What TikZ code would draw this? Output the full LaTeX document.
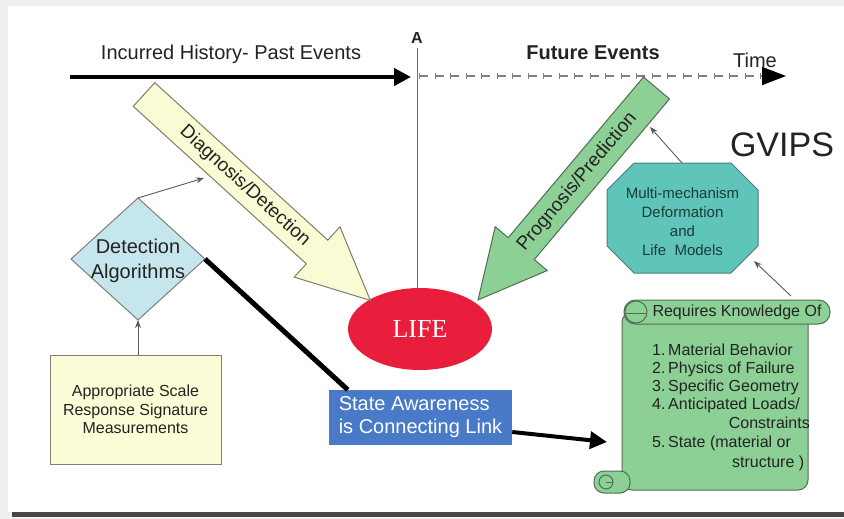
\documentclass[tikz,border=0pt]{standalone}
\usepackage{fontspec}
\setmainfont{Liberation Sans}
\newfontfamily\lifefont{Liberation Serif}
\usetikzlibrary{arrows.meta,calc,shapes.geometric}
\definecolor{bggray}{RGB}{240,239,237}
\definecolor{shadowgray}{RGB}{70,70,70}
\definecolor{yelarrow}{RGB}{250,250,212}
\definecolor{yelline}{RGB}{125,125,105}
\definecolor{grnarrow}{RGB}{140,208,150}
\definecolor{grnline}{RGB}{80,110,85}
\definecolor{lifered}{RGB}{232,30,60}
\definecolor{diablue}{RGB}{198,230,238}
\definecolor{boxyel}{RGB}{252,252,214}
\definecolor{stateblue}{RGB}{72,122,200}
\definecolor{octteal}{RGB}{95,197,187}
\definecolor{octtext}{RGB}{25,60,55}
\definecolor{edgegray}{RGB}{125,125,125}
\definecolor{textdark}{RGB}{35,35,35}
\newcommand\fsz[2]{\fontsize{#1}{#2}\selectfont}
\tikzset{
  thinarrow/.style={draw={rgb,255:red,90;green,90;blue,90}, line width=0.9pt, -{Stealth[length=8pt,width=6pt]}},
  bigarrow/.style={line width=4pt, -{Triangle[length=17pt,width=17pt]}},
  scrollpart/.style={fill=grnarrow, draw=grnline, line width=1pt},
  lbl/.style={text=textdark, inner sep=0pt}
}
\begin{document}
\begin{tikzpicture}[x=1pt,y=-1pt]
\useasboundingbox (0,0) rectangle (844,519);
% background panel
\fill[bggray] (0,0) rectangle (844,519);
\fill[white] (8,6) rectangle (844,512);
\fill[shadowgray] (12,512) rectangle (844,517);

% timeline
\coordinate (h0) at (70,77);
\coordinate (h1) at (411,77);
\draw[bigarrow] (h0) -- (h1);
\coordinate (f0) at (419,76);
\coordinate (f1) at (786,76);
\draw[gray, line width=6pt, dash pattern=on 1.2pt off 14.3pt] (f0) -- ($(f1)+(-24,0)$);
\draw[gray, line width=1.8pt, dash pattern=on 9pt off 6.5pt, -{Triangle[length=24pt,width=18pt,color=black]}] (f0) -- (f1);
\node[lbl, font=\fsz{20}{24}] (hist) at (231,54) {Incurred History- Past Events};
\node[lbl, font=\fsz{20}{24}\bfseries] (fut) at (593,53) {Future Events};
\node[lbl, font=\fsz{20}{24}] (time) at (755,60) {Time};
\node[lbl, font=\fsz{16}{19}\bfseries] (A) at (417,38) {A};

% LIFE
\node[ellipse, fill=lifered, minimum width=144pt, minimum height=82pt, inner sep=0pt,
      text=white, font=\fsz{26}{30}\lifefont] (life) at (420,329) {LIFE};
\coordinate (vtop) at (417,48);
\draw[draw={rgb,255:red,110;green,110;blue,110}, line width=1pt] (vtop) -- (vtop |- life.north);

% Diagnosis / Detection arrow
\begin{scope}[shift={(144,94.5)}, rotate=-42.3]
\filldraw[fill=yelarrow, draw=yelline, line width=1pt] (0,-16) -- (234,-16) -- (234,-34) -- (306,0) -- (234,34) -- (234,16) -- (0,16) -- cycle;
\end{scope}
\node[lbl, rotate=-42.3, font=\fsz{19}{22}] (diag) at (244.8,186.2) {Diagnosis/Detection};

% Prognosis / Prediction arrow
\begin{scope}[shift={(656.5,88)}, rotate=-130.1]
\filldraw[fill=grnarrow, draw=grnline, line width=1pt] (0,-17) -- (210,-17) -- (210,-34) -- (277,0) -- (210,34) -- (210,17) -- (0,17) -- cycle;
\end{scope}
\node[lbl, rotate=49.9, font=\fsz{19}{22}] (prog) at (577.3,182.1) {Prognosis/Prediction};

% Detection Algorithms diamond
\coordinate (dtop) at (138,198);
\coordinate (dright) at (205,259);
\coordinate (dbot) at (138,320);
\coordinate (dleft) at (71,259);
\filldraw[fill=diablue, draw=edgegray, line width=1pt] (dtop) -- (dright) -- (dbot) -- (dleft) -- cycle;
\node[lbl, align=center, font=\fsz{20}{25}] (dia) at (138,261) {Detection\\Algorithms};
\coordinate (dgoal) at (204,178);
\draw[thinarrow] (dtop) -- (dgoal);

% Appropriate scale box
\node[draw=edgegray, fill=boxyel, line width=1pt, minimum width=171pt, minimum height=109pt,
      align=center, text=textdark, font=\fsz{16}{18.5}] (meas) at (135.5,409.5)
      {Appropriate Scale\\Response Signature\\Measurements};
\draw[thinarrow] (dbot |- meas.north) -- (dbot);

% State awareness
\node[fill=stateblue, minimum width=183pt, minimum height=55pt, inner sep=0pt,
      align=left, text=white, font=\fsz{20}{23}] (state) at (420.5,417.5)
      {State Awareness\\is Connecting Link};
\draw[line width=5pt] (dright) -- ($(state.north west)+(19,0)$);
\coordinate (stip) at (607,442);
\draw[line width=4pt, -{Triangle[length=17pt,width=17pt]}] ($(state.east)+(0,14.5)$) -- (stip);

% Scroll
\filldraw[scrollpart, rounded corners=10pt] (622,312) -- (622,490) -- (808,490) -- (808,312) -- cycle;
\filldraw[scrollpart, rounded corners=10pt] (594,471) rectangle (630,493);
\draw[grnline, line width=1pt] (606,482) circle (7);
\draw[grnline, line width=1pt] (606,482) -- (613,482);
\filldraw[scrollpart, rounded corners=11.5pt] (624,300) rectangle (830,324);
\filldraw[scrollpart] (636,312) circle (11);
\draw[grnline, line width=1pt] (625,313) -- (647,313);
\node[lbl, font=\fsz{16}{19}] (req) at (737,312) {Requires Knowledge Of};
\node[lbl, anchor=west, font=\fsz{16}{19}] (k1) at (652,350) {1.\,Material Behavior};
\node[lbl, anchor=west, font=\fsz{16}{19}] (k2) at (652,369) {2.\,Physics of Failure};
\node[lbl, anchor=west, font=\fsz{16}{19}] (k3) at (652,387) {3.\,Specific Geometry};
\node[lbl, anchor=west, font=\fsz{16}{19}] (k4) at (652,405) {4.\,Anticipated Loads/};
\node[lbl, anchor=east, font=\fsz{16}{19}] (k4b) at (810,423) {Constraints};
\node[lbl, anchor=west, font=\fsz{16}{19}] (k5) at (652,443) {5.\,State (material or};
\node[lbl, anchor=west, font=\fsz{16}{19}] (k5b) at (732,463) {structure )};

% Octagon
\filldraw[fill=octteal, draw={rgb,255:red,80;green,125;blue,120}, line width=1pt]
  (634,163) -- (731,163) -- (758,190) -- (758,246) -- (731,273) -- (634,273) -- (607,246) -- (607,190) -- cycle;
\node[inner sep=0pt, align=center, text=octtext, font=\fsz{15}{19}] (oct) at (682.5,221.5)
  {Multi-mechanism\\Deformation\\and\\Life\ \ Models};
\coordinate (octtop) at (682,163);
\coordinate (ogoal) at (650,127);
\draw[thinarrow] (octtop) -- (ogoal);
\coordinate (scrtop) at (791,296);
\coordinate (octse) at (754,261);
\draw[thinarrow] (scrtop) -- (octse);

% GVIPS
\node[inner sep=0pt, text=textdark, font=\fsz{34}{40}] (gvips) at (782,145) {GVIPS};
\end{tikzpicture}
\end{document}
